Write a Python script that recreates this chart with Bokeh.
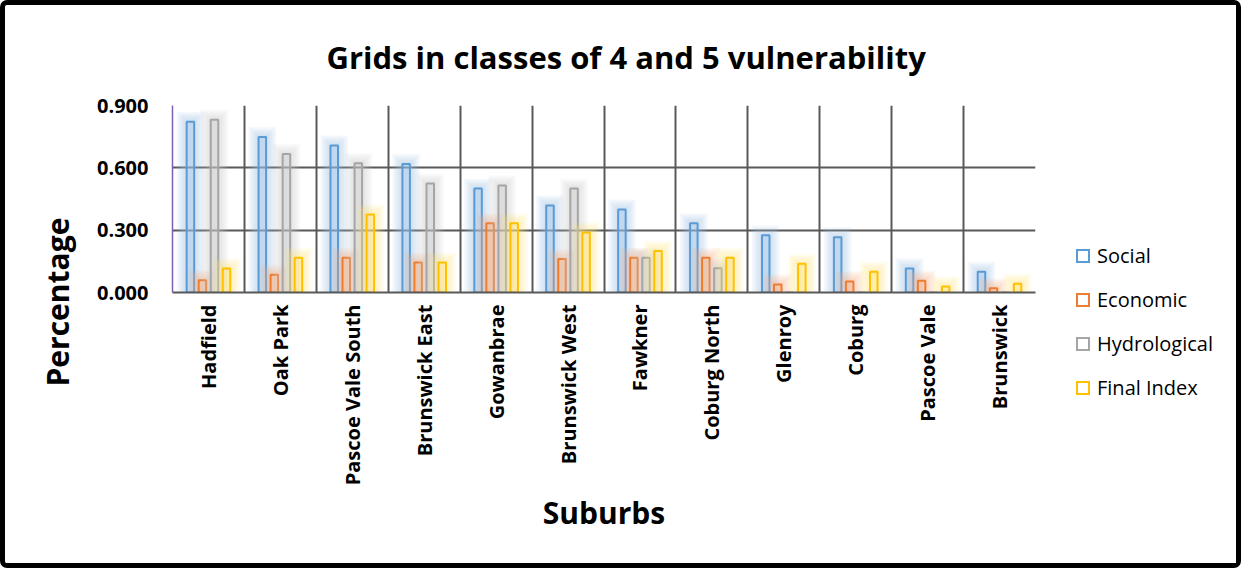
import math
from bokeh.plotting import figure
from bokeh.layouts import row
from bokeh.models import (FactorRange, FixedTicker, Grid, Title, Div,
                          PrintfTickFormatter, ColumnDataSource)
from bokeh.transform import dodge
from bokeh.embed import file_html
from bokeh.resources import INLINE

suburbs = ["Hadfield", "Oak Park", "Pascoe Vale South", "Brunswick East", "Gowanbrae",
           "Brunswick West", "Fawkner", "Coburg North", "Glenroy", "Coburg",
           "Pascoe Vale", "Brunswick"]
social = [0.822, 0.748, 0.708, 0.618, 0.500, 0.419, 0.400, 0.333, 0.275, 0.266, 0.116, 0.100]
economic = [0.059, 0.085, 0.167, 0.144, 0.333, 0.161, 0.167, 0.167, 0.039, 0.053, 0.057, 0.020]
hydrological = [0.832, 0.667, 0.622, 0.524, 0.515, 0.500, 0.167, 0.117, 0.0, 0.0, 0.0, 0.0]
final_index = [0.116, 0.167, 0.376, 0.144, 0.333, 0.289, 0.200, 0.167, 0.138, 0.100, 0.029, 0.042]
y_ticks = [0.0, 0.3, 0.6, 0.9]

series = [
    ("Social", social, "#5b9bd5", "#9dc3e6", -0.251),
    ("Economic", economic, "#ed7d31", "#f4b183", -0.084),
    ("Hydrological", hydrological, "#a5a5a5", "#c9c9c9", 0.084),
    ("Final Index", final_index, "#ffc000", "#ffe27a", 0.251),
]

TOTAL_W, H = 1231, 558
W = 1032
MB_L, MB_R, MB_T, MB_B = 167, 2, 98, 271
frame_w = W - MB_L - MB_R
frame_h = H - MB_T - MB_B
ppx = len(suburbs) / frame_w      # data units per px (x)
ppy = 0.9 / frame_h               # data units per px (y)
bar_w = 7.5 * ppx

p = figure(x_range=FactorRange(factors=suburbs, range_padding=0), y_range=(0, 0.9),
           width=W, height=H, output_backend="svg", toolbar_location=None,
           min_border_left=MB_L, min_border_right=MB_R, min_border_top=MB_T,
           min_border_bottom=MB_B, background_fill_color="white",
           border_fill_color="white")
p.outline_line_color = None

glow_steps = (2, 4, 6, 8, 10)
data = {"x": suburbs}
for name, vals, lc, gc, off in series:
    data[name] = vals
    for k in glow_steps:
        data[f"{name}_g{k}"] = [v + k * ppy if v > 0 else 0 for v in vals]
src = ColumnDataSource(data)

for name, vals, lc, gc, off in series:
    xx = dodge("x", off, range=p.x_range)
    for k in reversed(glow_steps):
        p.vbar(x=xx, top=f"{name}_g{k}", bottom=0, width=bar_w + 2 * k * ppx, source=src,
               fill_color=gc, fill_alpha=0.11, line_color=None)
    p.vbar(x=xx, top=name, bottom=0, width=bar_w, source=src,
           fill_color=gc, fill_alpha=0.3, line_color=None)
    p.vbar(x=xx, top=name, bottom=0, width=bar_w, source=src,
           fill_alpha=0, line_color=lc, line_width=2)

# grids
p.xgrid.visible = False
p.ygrid.ticker = FixedTicker(ticks=y_ticks)
p.ygrid.grid_line_color = "#595959"
p.ygrid.grid_line_width = 2
p.add_layout(Grid(dimension=0, ticker=FixedTicker(ticks=list(range(1, len(suburbs) + 1))),
                  grid_line_color="#595959", grid_line_width=2))

# axes
p.yaxis.ticker = FixedTicker(ticks=y_ticks)
p.yaxis.formatter = PrintfTickFormatter(format="%.3f")
p.yaxis.major_tick_line_color = None
p.yaxis.minor_tick_line_color = None
p.yaxis.axis_line_color = "#7f5fb2"
p.yaxis.axis_line_width = 1.5
p.yaxis.major_label_standoff = 18
p.yaxis.major_label_text_font = "Open Sans"
p.yaxis.major_label_text_font_style = "bold"
p.yaxis.major_label_text_font_size = "20px"
p.yaxis.major_label_text_color = "black"

p.xaxis.major_tick_line_color = None
p.xaxis.axis_line_color = "#595959"
p.xaxis.axis_line_width = 2
p.xaxis.major_label_orientation = math.pi / 2
p.xaxis.major_label_standoff = 6
p.xaxis.major_label_text_font = "Open Sans"
p.xaxis.major_label_text_font_style = "bold"
p.xaxis.major_label_text_font_size = "20px"
p.xaxis.major_label_text_color = "black"
p.xaxis.axis_label = "Suburbs"
p.xaxis.axis_label_standoff = 4
p.xaxis.axis_label_text_font = "Open Sans"
p.xaxis.axis_label_text_font_style = "bold"
p.xaxis.axis_label_text_font_size = "30px"
p.xaxis.axis_label_text_color = "black"

# y label as a side title (positioned lower than the frame centre, like the reference)
p.add_layout(Title(text="Percentage", align="left", offset=-94, standoff=34,
                   text_font="Open Sans", text_font_style="bold",
                   text_font_size="30px", text_color="black"), "left")

# title
p.title.text = "Grids in classes of 4 and 5 vulnerability"
p.title.align = "left"
p.title.offset = 154
p.title.standoff = 56
p.title.text_font = "Open Sans"
p.title.text_font_style = "bold"
p.title.text_font_size = "31px"
p.title.text_color = "black"

# legend (to the right of the plot area)
LEG_LEFT, LEG_TOP, LEG_PITCH = 39, 238, 44
entries = []
for i, (name, vals, lc, gc, off) in enumerate(series):
    entries.append(
        f'<div style="position:absolute;left:{LEG_LEFT}px;top:{LEG_TOP + i * LEG_PITCH}px;'
        f'height:26px;display:flex;align-items:center;white-space:nowrap;">'
        f'<span style="display:inline-block;width:10px;height:10px;border:2px solid {lc};'
        f'margin-right:7px;"></span><span>{name}</span></div>')
legend_html = (f'<div style="position:relative;width:{TOTAL_W - W}px;height:{H}px;'
               f'font-family:\'Open Sans\';font-size:20px;color:black;background:white;">'
               + "".join(entries) + "</div>")
lp = Div(text=legend_html, width=TOTAL_W - W, height=H, margin=0,
         styles={"overflow": "hidden"})

layout = row(p, lp)
layout.styles = {"border": "5px solid black", "border-radius": "7px",
                 "box-sizing": "content-box", "background": "white"}

open("out.html", "w").write(file_html(layout, INLINE))
